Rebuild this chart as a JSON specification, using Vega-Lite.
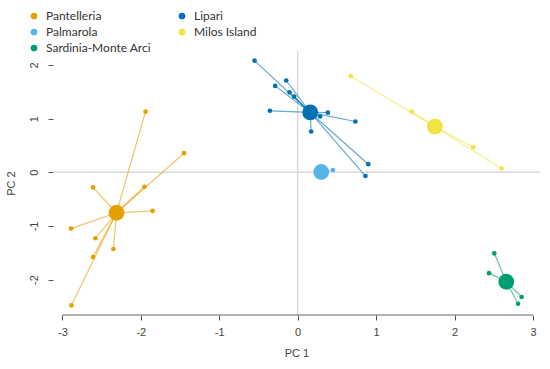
{
  "$schema": "https://vega.github.io/schema/vega-lite/v6.json",
  "width": 487,
  "height": 264,
  "autosize": {"type": "none"},
  "padding": {"left": 53, "top": 51, "right": 10, "bottom": 54},
  "background": "white",
  "config": {
    "view": {"stroke": null},
    "axis": {"labelFont": "Liberation Sans", "titleFont": "Liberation Sans", "labelFontSize": 11, "titleFontSize": 11, "titleFontWeight": "normal", "labelColor": "#444", "titleColor": "#444", "tickColor": "#555", "grid": false, "domain": false, "tickSize": 5, "labelExpr": "'' + datum.value"}
  },
  "datasets": {
    "pts": [
      {"site": "Pantelleria", "x": -1.94, "y": 1.13, "cx": -2.31, "cy": -0.755},
      {"site": "Pantelleria", "x": -1.45, "y": 0.355, "cx": -2.31, "cy": -0.755},
      {"site": "Pantelleria", "x": -1.955, "y": -0.27, "cx": -2.31, "cy": -0.755},
      {"site": "Pantelleria", "x": -2.61, "y": -0.28, "cx": -2.31, "cy": -0.755},
      {"site": "Pantelleria", "x": -1.85, "y": -0.72, "cx": -2.31, "cy": -0.755},
      {"site": "Pantelleria", "x": -2.89, "y": -1.05, "cx": -2.31, "cy": -0.755},
      {"site": "Pantelleria", "x": -2.58, "y": -1.23, "cx": -2.31, "cy": -0.755},
      {"site": "Pantelleria", "x": -2.35, "y": -1.43, "cx": -2.31, "cy": -0.755},
      {"site": "Pantelleria", "x": -2.61, "y": -1.58, "cx": -2.31, "cy": -0.755},
      {"site": "Pantelleria", "x": -2.885, "y": -2.48, "cx": -2.31, "cy": -0.755},
      {"site": "Lipari", "x": -0.55, "y": 2.08, "cx": 0.16, "cy": 1.115},
      {"site": "Lipari", "x": -0.146, "y": 1.71, "cx": 0.16, "cy": 1.115},
      {"site": "Lipari", "x": -0.287, "y": 1.61, "cx": 0.16, "cy": 1.115},
      {"site": "Lipari", "x": -0.104, "y": 1.49, "cx": 0.16, "cy": 1.115},
      {"site": "Lipari", "x": -0.045, "y": 1.41, "cx": 0.16, "cy": 1.115},
      {"site": "Lipari", "x": -0.354, "y": 1.146, "cx": 0.16, "cy": 1.115},
      {"site": "Lipari", "x": 0.385, "y": 1.11, "cx": 0.16, "cy": 1.115},
      {"site": "Lipari", "x": 0.287, "y": 1.04, "cx": 0.16, "cy": 1.115},
      {"site": "Lipari", "x": 0.736, "y": 0.946, "cx": 0.16, "cy": 1.115},
      {"site": "Lipari", "x": 0.172, "y": 0.76, "cx": 0.16, "cy": 1.115},
      {"site": "Lipari", "x": 0.9, "y": 0.15, "cx": 0.16, "cy": 1.115},
      {"site": "Lipari", "x": 0.864, "y": -0.07, "cx": 0.16, "cy": 1.115},
      {"site": "Palmarola", "x": 0.45, "y": 0.04, "cx": 0.3, "cy": 0.005},
      {"site": "Milos Island", "x": 0.678, "y": 1.79, "cx": 1.75, "cy": 0.85},
      {"site": "Milos Island", "x": 1.455, "y": 1.13, "cx": 1.75, "cy": 0.85},
      {"site": "Milos Island", "x": 2.24, "y": 0.467, "cx": 1.75, "cy": 0.85},
      {"site": "Milos Island", "x": 2.6, "y": 0.07, "cx": 1.75, "cy": 0.85},
      {"site": "Sardinia-Monte Arci", "x": 2.507, "y": -1.51, "cx": 2.66, "cy": -2.04},
      {"site": "Sardinia-Monte Arci", "x": 2.44, "y": -1.88, "cx": 2.66, "cy": -2.04},
      {"site": "Sardinia-Monte Arci", "x": 2.856, "y": -2.325, "cx": 2.66, "cy": -2.04},
      {"site": "Sardinia-Monte Arci", "x": 2.81, "y": -2.45, "cx": 2.66, "cy": -2.04}
    ],
    "cent": [
      {"site": "Pantelleria", "cx": -2.31, "cy": -0.755},
      {"site": "Lipari", "cx": 0.16, "cy": 1.115},
      {"site": "Palmarola", "cx": 0.3, "cy": 0.005},
      {"site": "Milos Island", "cx": 1.75, "cy": 0.85},
      {"site": "Sardinia-Monte Arci", "cx": 2.66, "cy": -2.04}
    ]
  },
  "layer": [
    {
      "data": {"values": [{}]},
      "mark": {"type": "rule", "color": "#d9d9d9", "strokeWidth": 1.5},
      "encoding": {"x": {"datum": 0, "type": "quantitative", "scale": {"domain": [-3.12, 3.09], "nice": false, "zero": false}, "axis": {"values": [-3, -2, -1, 0, 1, 2, 3], "title": "PC 1", "labelPadding": 6, "titlePadding": 10}}}
    },
    {
      "data": {"values": [{}]},
      "mark": {"type": "rule", "color": "#d9d9d9", "strokeWidth": 1.5},
      "encoding": {"y": {"datum": 0, "type": "quantitative", "scale": {"domain": [-2.66, 2.26], "nice": false, "zero": false}, "axis": {"values": [-2, -1, 0, 1, 2], "title": "PC 2", "labelAngle": -90, "labelAlign": "center", "labelBaseline": "bottom", "labelPadding": 9, "titlePadding": 12}}}
    },
    {
      "data": {"values": [{}]},
      "mark": {"type": "rule", "color": "#666", "strokeWidth": 1},
      "encoding": {"x": {"datum": -3, "type": "quantitative"}, "x2": {"datum": 3}, "y": {"datum": -2.66, "type": "quantitative"}}
    },
    {
      "data": {"name": "pts"},
      "mark": {"type": "rule", "strokeWidth": 1.2, "strokeOpacity": 0.6},
      "encoding": {
        "x": {"field": "x", "type": "quantitative"},
        "y": {"field": "y", "type": "quantitative"},
        "x2": {"field": "cx"},
        "y2": {"field": "cy"},
        "color": {"field": "site", "type": "nominal"}
      }
    },
    {
      "data": {"name": "pts"},
      "mark": {"type": "circle", "size": 22, "opacity": 1},
      "encoding": {
        "x": {"field": "x", "type": "quantitative"},
        "y": {"field": "y", "type": "quantitative"},
        "color": {"field": "site", "type": "nominal"}
      }
    },
    {
      "data": {"name": "cent"},
      "mark": {"type": "circle", "size": 250, "opacity": 1},
      "encoding": {
        "x": {"field": "cx", "type": "quantitative"},
        "y": {"field": "cy", "type": "quantitative"},
        "color": {
          "field": "site", "type": "nominal",
          "scale": {"domain": ["Pantelleria", "Palmarola", "Sardinia-Monte Arci", "Lipari", "Milos Island"], "range": ["#E69F00", "#56B4E9", "#009E73", "#0072B2", "#F0E442"]},
          "legend": {"orient": "none", "legendX": -25, "legendY": -41, "columns": 2, "columnPadding": 24, "rowPadding": 4, "title": null, "symbolType": "circle", "symbolSize": 45, "symbolOpacity": 1, "symbolStrokeWidth": 0, "labelFont": "Lato", "labelFontSize": 12, "labelColor": "#333", "labelOffset": 6}
        }
      }
    }
  ]
}
